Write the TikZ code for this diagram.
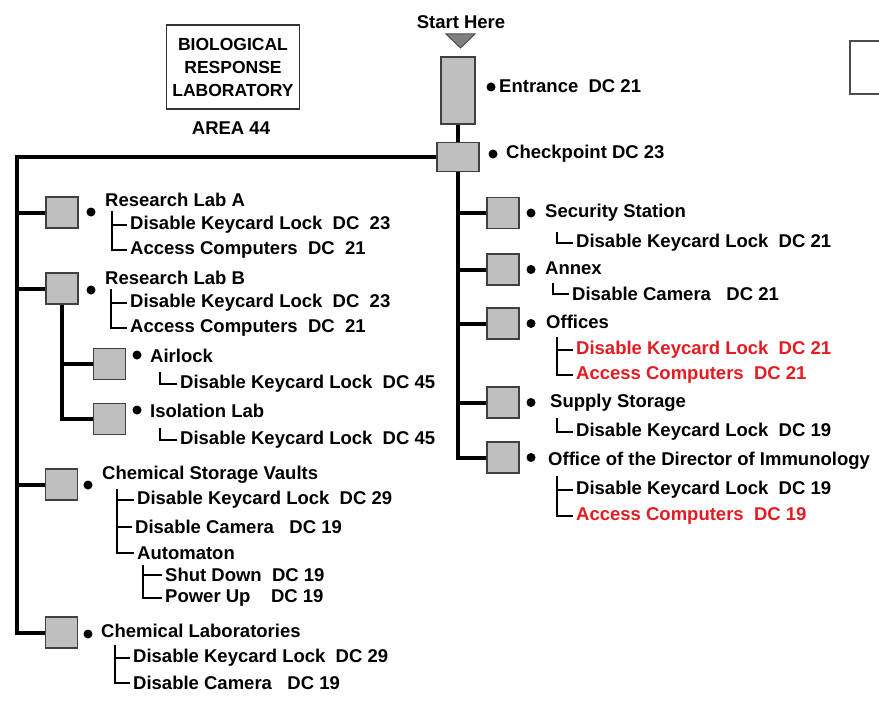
\documentclass[tikz,border=0pt]{standalone}
\usepackage{fontspec}
\setmainfont{Liberation Sans}
\definecolor{rojo}{RGB}{228,28,34}
\begin{document}
\begin{tikzpicture}[
    x=1pt,
    y=-1pt,
    sala/.style={draw=black!75, fill=black!25, line width=1.3pt, minimum width=32pt, minimum height=31pt, inner sep=0pt},
    punto/.style={circle, fill=black, inner sep=0pt, minimum size=9pt},
    rotulo/.style={font=\fontsize{18.5}{21}\selectfont\bfseries, anchor=west, inner sep=0pt},
    accion/.style={rotulo, inner xsep=3pt},
    tronco/.style={line width=4pt},
    rama/.style={line width=2.5pt},
    alerta/.style={text=rojo}
]
\useasboundingbox (0,0) rectangle (879,701);

% Titulo
\node[draw=black!80, line width=1.3pt, minimum width=133pt, minimum height=84pt, align=center,
    font=\fontsize{17.5}{23}\selectfont\bfseries] (titulo) at (233,67) {BIOLOGICAL\\RESPONSE\\LABORATORY};
\node[rotulo, anchor=center] (area) at (231,128) {AREA 44};
\draw[draw=black!70, line width=1.3pt] (850,41) rectangle (890,94);

% Entrada y control
\node[rotulo, anchor=center] (inicio) at (461,22) {Start Here};
\draw[fill=black!50, draw=black!70, line width=1pt] (446,34) -- (475,34) -- (460.5,48) -- cycle;
\node[sala, minimum width=34pt, minimum height=67pt] (entrada) at (458,90.5) {};
\node[sala, minimum width=42pt, minimum height=29pt] (control) at (458,157) {};
\draw[tronco] (entrada) -- (control);
\node[punto] (p-entrada) at (491,87) {};
\node[rotulo] (t-entrada) at (499,86) {Entrance~~DC 21};
\node[punto] (p-control) at (493,154) {};
\node[rotulo] (t-control) at (506,154) {Checkpoint DC 23};

% Ala derecha: nombre / y / rotulo / x, y del rotulo
\foreach \sal/\y/\txt/\xt/\yt in {
    seg/213/Security Station/545/213,
    anexo/269.5/Annex/545/268,
    ofi/323.5/Offices/546/322,
    sum/402.5/Supply Storage/550/403,
    dir/457.5/Office of the Director of Immunology/548/461}
{
    \node[sala] (\sal) at (503,\y) {};
    \node[punto] (p-\sal) at (531,\y) {};
    \node[rotulo] (t-\sal) at (\xt,\yt) {\txt};
    \draw[tronco] (control.south |- \sal.west) -- (\sal.west);
}
\draw[tronco] (control.south) |- (dir.west);

\node[accion] (seg-1) at (573,243) {Disable Keycard Lock~~DC 21};
\node[accion] (anexo-1) at (569,294) {Disable Camera~~~DC 21};
\node[accion, alerta] (ofi-1) at (573,350) {Disable Keycard Lock~~DC 21};
\node[accion, alerta] (ofi-2) at (573,375) {Access Computers~~DC 21};
\node[accion] (sum-1) at (573,432) {Disable Keycard Lock~~DC 19};
\node[accion] (dir-1) at (573,490) {Disable Keycard Lock~~DC 19};
\node[accion, alerta] (dir-2) at (573,516) {Access Computers~~DC 19};
\coordinate (seg-b) at (557,232);
\coordinate (anexo-b) at (553,283);
\coordinate (ofi-b) at (557,337);
\coordinate (sum-b) at (557,418);
\coordinate (dir-b) at (557,476);
\draw[rama] (seg-b) |- (seg-1.west);
\draw[rama] (anexo-b) |- (anexo-1.west);
\draw[rama] (ofi-b) |- (ofi-1.west) (ofi-b) |- (ofi-2.west);
\draw[rama] (sum-b) |- (sum-1.west);
\draw[rama] (dir-b) |- (dir-1.west) (dir-b) |- (dir-2.west);

% Ala izquierda
\coordinate (esquina) at (17,157);
\foreach \sal/\x/\y/\xp/\yp/\txt/\xt/\yt in {
    rla/62/212.5/91/212/Research Lab A/105/200,
    rlb/62/288.5/91/290/Research Lab B/105/278,
    air/109.5/364/137/355/Airlock/150/356,
    iso/109.5/419/137/410/Isolation Lab/150/411,
    csv/61.5/484.5/88/485/Chemical Storage Vaults/102/475,
    clab/61.5/632.5/88/634/Chemical Laboratories/101/631}
{
    \node[sala] (\sal) at (\x,\y) {};
    \node[punto] (p-\sal) at (\xp,\yp) {};
    \node[rotulo] (t-\sal) at (\xt,\yt) {\txt};
}
\draw[tronco] (control.west) -- (esquina) |- (clab.west);
\foreach \sal in {rla, rlb, csv}
    \draw[tronco] (esquina |- \sal.west) -- (\sal.west);
\draw[tronco] (rlb.south) |- (iso.west);
\draw[tronco] (rlb.south |- air.west) -- (air.west);

\node[accion] (rla-1) at (127,225) {Disable Keycard Lock~~DC~~23};
\node[accion] (rla-2) at (127,250) {Access Computers~~DC~~21};
\node[accion] (rlb-1) at (127,303) {Disable Keycard Lock~~DC~~23};
\node[accion] (rlb-2) at (127,328) {Access Computers~~DC~~21};
\node[accion] (air-1) at (177,384) {Disable Keycard Lock~~DC 45};
\node[accion] (iso-1) at (177,440) {Disable Keycard Lock~~DC 45};
\node[accion] (csv-1) at (134,500) {Disable Keycard Lock~~DC 29};
\node[accion] (csv-2) at (132,527) {Disable Camera~~~DC 19};
\node[accion] (csv-3) at (134,553) {Automaton};
\node[accion] (csv-4) at (162,575) {Shut Down~~DC 19};
\node[accion] (csv-5) at (162,598) {Power Up~~~~DC 19};
\node[accion] (clab-1) at (130,658) {Disable Keycard Lock~~DC 29};
\node[accion] (clab-2) at (130,683) {Disable Camera~~~DC 19};
\coordinate (rla-b) at (112,211);
\coordinate (rlb-b) at (111,289);
\coordinate (air-b) at (160,372);
\coordinate (iso-b) at (160,428);
\coordinate (csv-b) at (117,489);
\coordinate (csv3-b) at (143,565);
\coordinate (clab-b) at (115,645);
\draw[rama] (rla-b) |- (rla-1.west) (rla-b) |- (rla-2.west);
\draw[rama] (rlb-b) |- (rlb-1.west) (rlb-b) |- (rlb-2.west);
\draw[rama] (air-b) |- (air-1.west);
\draw[rama] (iso-b) |- (iso-1.west);
\draw[rama] (csv-b) |- (csv-1.west) (csv-b) |- (csv-2.west) (csv-b) |- (csv-3.west);
\draw[rama] (csv3-b) |- (csv-4.west) (csv3-b) |- (csv-5.west);
\draw[rama] (clab-b) |- (clab-1.west) (clab-b) |- (clab-2.west);

\end{tikzpicture}
\end{document}
